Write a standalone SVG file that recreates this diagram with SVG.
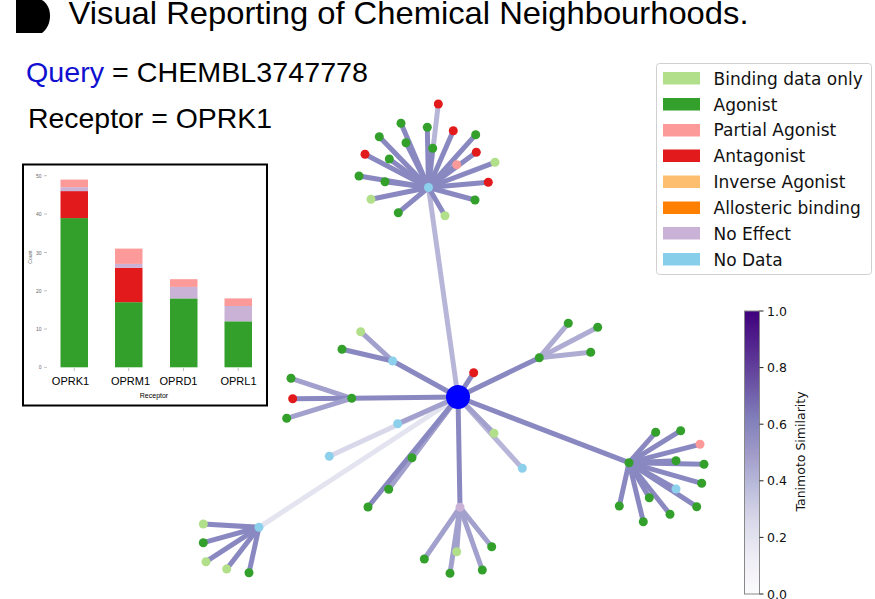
<svg xmlns="http://www.w3.org/2000/svg" width="875" height="599" viewBox="0 0 875 599">
<style>
.ttl{font-family:"Liberation Sans",Arial,sans-serif;fill:#000}
.dj{font-family:"DejaVu Sans","Liberation Sans",sans-serif;fill:#111}
.e{fill:none;stroke-width:5;stroke-linecap:butt}
.m{stroke:#8a88c1}
.l1{stroke:#a2a0cc}
.l2{stroke:#aeacd2}
.l3{stroke:#b8b6d8}
.l4{stroke:#d8d8ea}
.l5{stroke:#e4e4f0}
.bd{fill:#b2df8a}
.ag{fill:#33a02c}
.pa{fill:#fb9a99}
.an{fill:#e31a1c}
.nd{fill:#8dd0ec}
.ne{fill:#cab2d6}
.tk{font-family:"Liberation Sans",Arial,sans-serif;font-size:5px;fill:#666}
</style>
<defs>
<linearGradient id="purples" x1="0" y1="1" x2="0" y2="0">
<stop offset="0" stop-color="#fcfbfd"/>
<stop offset="0.125" stop-color="#efedf5"/>
<stop offset="0.25" stop-color="#dadaeb"/>
<stop offset="0.375" stop-color="#bcbddc"/>
<stop offset="0.5" stop-color="#9e9ac8"/>
<stop offset="0.625" stop-color="#807dba"/>
<stop offset="0.75" stop-color="#6a51a3"/>
<stop offset="0.875" stop-color="#54278f"/>
<stop offset="1" stop-color="#3f007d"/>
</linearGradient>
</defs>
<rect width="875" height="599" fill="#fff"/>

<!-- header -->
<g id="header">
<path d="M16 0 H42 C48 4 50 10 50 16 C50 23 47 29 42 33 H16 Z" fill="#000"/>
<text class="ttl" x="68.5" y="23.5" font-size="30.5" textLength="680" lengthAdjust="spacingAndGlyphs">Visual Reporting of Chemical Neighbourhoods.</text>
<text class="ttl" x="26" y="81.5" font-size="28.5" textLength="342" lengthAdjust="spacingAndGlyphs"><tspan fill="#1010d0">Query</tspan> = CHEMBL3747778</text>
<text class="ttl" x="28" y="128" font-size="28.5" textLength="244" lengthAdjust="spacingAndGlyphs">Receptor = OPRK1</text>
</g>

<!-- bar chart inset -->
<g id="barchart">
<rect x="23" y="164.5" width="244" height="241" fill="#fff" stroke="#000" stroke-width="2"/>
<g class="tk" text-anchor="end">
<text x="41.5" y="177.5">50</text>
<text x="41.5" y="216">40</text>
<text x="41.5" y="254.5">30</text>
<text x="41.5" y="293">20</text>
<text x="41.5" y="331">10</text>
<text x="41.5" y="369">0</text>
</g>
<g stroke="#999" stroke-width="0.6">
<line x1="44" y1="175.7" x2="47" y2="175.7"/>
<line x1="44" y1="214" x2="47" y2="214"/>
<line x1="44" y1="252.5" x2="47" y2="252.5"/>
<line x1="44" y1="290.8" x2="47" y2="290.8"/>
<line x1="44" y1="329" x2="47" y2="329"/>
<line x1="44" y1="367.3" x2="47" y2="367.3"/>
<line x1="74.3" y1="368" x2="74.3" y2="371"/>
<line x1="128.7" y1="368" x2="128.7" y2="371"/>
<line x1="183.5" y1="368" x2="183.5" y2="371"/>
<line x1="238.2" y1="368" x2="238.2" y2="371"/>
</g>
<text class="tk" transform="translate(32 257) rotate(-90)" text-anchor="middle">Count</text>
<!-- OPRK1 -->
<rect class="ag" x="60.5" y="218.1" width="27.5" height="149.2"/>
<rect class="an" x="60.5" y="191.1" width="27.5" height="27"/>
<rect class="ne" x="60.5" y="187.2" width="27.5" height="3.9"/>
<rect class="pa" x="60.5" y="179.6" width="27.5" height="7.6"/>
<!-- OPRM1 -->
<rect class="ag" x="115" y="302.2" width="27.5" height="65.1"/>
<rect class="an" x="115" y="267.7" width="27.5" height="34.5"/>
<rect class="ne" x="115" y="263.9" width="27.5" height="3.8"/>
<rect class="pa" x="115" y="248.6" width="27.5" height="15.3"/>
<!-- OPRD1 -->
<rect class="ag" x="170" y="298.4" width="27.5" height="68.9"/>
<rect class="ne" x="170" y="286.9" width="27.5" height="11.5"/>
<rect class="pa" x="170" y="279.2" width="27.5" height="7.7"/>
<!-- OPRL1 -->
<rect class="ag" x="224.5" y="321.3" width="27.5" height="46"/>
<rect class="ne" x="224.5" y="306" width="27.5" height="15.3"/>
<rect class="pa" x="224.5" y="298.4" width="27.5" height="7.6"/>
<g class="ttl" font-size="11" text-anchor="middle">
<text x="70.5" y="384.5">OPRK1</text>
<text x="130.5" y="384.5">OPRM1</text>
<text x="178.5" y="384.5">OPRD1</text>
<text x="238.5" y="384.5">OPRL1</text>
</g>
<text class="ttl" x="154" y="398" font-size="7" text-anchor="middle" fill="#222">Receptor</text>
</g>

<!-- legend -->
<g id="legend">
<rect x="656.5" y="63.5" width="215" height="211" rx="3" fill="#fff" stroke="#d0d0d0" stroke-width="1"/>
<rect class="bd" x="663" y="72" width="37" height="12.5"/>
<rect class="ag" x="663" y="98" width="37" height="12.5"/>
<rect class="pa" x="663" y="124" width="37" height="12.5"/>
<rect class="an" x="663" y="149.5" width="37" height="12.5"/>
<rect x="663" y="175.5" width="37" height="12.5" fill="#fdbf6f"/>
<rect x="663" y="201.5" width="37" height="12.5" fill="#ff7f00"/>
<rect class="ne" x="663" y="227" width="37" height="12.5"/>
<rect x="663" y="253" width="37" height="12.5" fill="#87ceeb"/>
<g class="dj" font-size="17">
<text x="713.5" y="84.5">Binding data only</text>
<text x="713.5" y="110.5">Agonist</text>
<text x="713.5" y="136">Partial Agonist</text>
<text x="713.5" y="162">Antagonist</text>
<text x="713.5" y="188">Inverse Agonist</text>
<text x="713.5" y="213.5">Allosteric binding</text>
<text x="713.5" y="239.5">No Effect</text>
<text x="713.5" y="265.5">No Data</text>
</g>
</g>

<!-- colorbar -->
<g id="colorbar">
<rect x="744.5" y="311" width="15" height="283" fill="url(#purples)" stroke="#888" stroke-width="1"/>
<g stroke="#222" stroke-width="1">
<line x1="759.5" y1="311" x2="763.5" y2="311"/>
<line x1="759.5" y1="367.6" x2="763.5" y2="367.6"/>
<line x1="759.5" y1="424.2" x2="763.5" y2="424.2"/>
<line x1="759.5" y1="480.8" x2="763.5" y2="480.8"/>
<line x1="759.5" y1="537.4" x2="763.5" y2="537.4"/>
<line x1="759.5" y1="594" x2="763.5" y2="594"/>
</g>
<g class="dj" font-size="12.5">
<text x="767" y="315.5">1.0</text>
<text x="767" y="372">0.8</text>
<text x="767" y="428.7">0.6</text>
<text x="767" y="485.3">0.4</text>
<text x="767" y="541.9">0.2</text>
<text x="767" y="598.5">0.0</text>
</g>
<text class="dj" font-size="12.5" transform="translate(805 451.5) rotate(-90)" text-anchor="middle">Tanimoto Similarity</text>
</g>

<!-- connectors -->
<g id="edges">
<line class="e l5" x1="458" y1="397" x2="259" y2="527.3"/>
<line class="e l4" x1="458" y1="397" x2="329.3" y2="456.3"/>
<line class="e l3" x1="458" y1="397" x2="522.3" y2="468.3"/>
<line class="e l3" x1="458" y1="397" x2="428.5" y2="187.5"/>
<line class="e l3" x1="428.5" y1="187.5" x2="438.3" y2="104"/>
<line class="e m" x1="428.5" y1="187.5" x2="401" y2="123.3"/>
<line class="e m" x1="428.5" y1="187.5" x2="427.3" y2="127.3"/>
<line class="e m" x1="428.5" y1="187.5" x2="453.3" y2="130.7"/>
<line class="e m" x1="428.5" y1="187.5" x2="475.7" y2="134.7"/>
<line class="e m" x1="428.5" y1="187.5" x2="379.3" y2="136.7"/>
<line class="e m" x1="428.5" y1="187.5" x2="406" y2="142.7"/>
<line class="e m" x1="428.5" y1="187.5" x2="476.3" y2="152.3"/>
<line class="e m" x1="428.5" y1="187.5" x2="432.7" y2="148.3"/>
<line class="e m" x1="428.5" y1="187.5" x2="456.7" y2="164.7"/>
<line class="e m" x1="428.5" y1="187.5" x2="495" y2="162.3"/>
<line class="e m" x1="428.5" y1="187.5" x2="365" y2="154.3"/>
<line class="e m" x1="428.5" y1="187.5" x2="389.3" y2="159"/>
<line class="e m" x1="428.5" y1="187.5" x2="359" y2="176"/>
<line class="e m" x1="428.5" y1="187.5" x2="385" y2="181.7"/>
<line class="e m" x1="428.5" y1="187.5" x2="488.3" y2="182.3"/>
<line class="e m" x1="428.5" y1="187.5" x2="371" y2="199.3"/>
<line class="e m" x1="428.5" y1="187.5" x2="475" y2="200"/>
<line class="e m" x1="428.5" y1="187.5" x2="398.3" y2="212.7"/>
<line class="e m" x1="428.5" y1="187.5" x2="445" y2="215.7"/>
<line class="e m" x1="458" y1="397" x2="392.7" y2="361"/>
<line class="e l1" x1="392.7" y1="361" x2="360.7" y2="331.7"/>
<line class="e m" x1="392.7" y1="361" x2="342" y2="349.3"/>
<line class="e m" x1="458" y1="397" x2="351.7" y2="398.3"/>
<line class="e l1" x1="351.7" y1="398.3" x2="291" y2="378.3"/>
<line class="e m" x1="351.7" y1="398.3" x2="292.7" y2="398.7"/>
<line class="e l1" x1="351.7" y1="398.3" x2="286.7" y2="418.3"/>
<line class="e m" x1="458" y1="397" x2="473.7" y2="372.7"/>
<line class="e l1" x1="458" y1="397" x2="397.7" y2="423.7"/>
<line class="e m" x1="458" y1="397" x2="412" y2="457.7"/>
<line class="e l1" x1="458" y1="397" x2="388.7" y2="489.3"/>
<line class="e m" x1="458" y1="397" x2="368" y2="507"/>
<line class="e l1" x1="458" y1="397" x2="494" y2="433.3"/>
<line class="e m" x1="458" y1="397" x2="539.3" y2="357.7"/>
<line class="e l2" x1="539.3" y1="357.7" x2="568.3" y2="323.3"/>
<line class="e l2" x1="539.3" y1="357.7" x2="597.7" y2="327.3"/>
<line class="e l2" x1="539.3" y1="357.7" x2="590.7" y2="352.3"/>
<line class="e m" x1="458" y1="397" x2="629" y2="462.7"/>
<line class="e m" x1="629" y1="462.7" x2="655.7" y2="432.3"/>
<line class="e m" x1="629" y1="462.7" x2="680.7" y2="430.7"/>
<line class="e m" x1="629" y1="462.7" x2="700" y2="444.3"/>
<line class="e m" x1="629" y1="462.7" x2="676" y2="460.7"/>
<line class="e m" x1="629" y1="462.7" x2="704" y2="464.3"/>
<line class="e m" x1="629" y1="462.7" x2="701.7" y2="483.3"/>
<line class="e m" x1="629" y1="462.7" x2="676" y2="489"/>
<line class="e m" x1="629" y1="462.7" x2="696.7" y2="506.7"/>
<line class="e m" x1="629" y1="462.7" x2="649.3" y2="497.7"/>
<line class="e m" x1="629" y1="462.7" x2="670" y2="514.3"/>
<line class="e m" x1="629" y1="462.7" x2="619.3" y2="506"/>
<line class="e m" x1="629" y1="462.7" x2="643.3" y2="521.7"/>
<line class="e m" x1="458" y1="397" x2="460" y2="507.3"/>
<line class="e l1" x1="460" y1="507.3" x2="424.3" y2="559"/>
<line class="e l1" x1="460" y1="507.3" x2="456.7" y2="551.7"/>
<line class="e l1" x1="460" y1="507.3" x2="450" y2="573.3"/>
<line class="e l1" x1="460" y1="507.3" x2="482.3" y2="570"/>
<line class="e l1" x1="460" y1="507.3" x2="491.7" y2="546.7"/>
<line class="e m" x1="259" y1="527.3" x2="203.3" y2="524"/>
<line class="e m" x1="259" y1="527.3" x2="203.3" y2="542.7"/>
<line class="e m" x1="259" y1="527.3" x2="206" y2="561.7"/>
<line class="e m" x1="259" y1="527.3" x2="226.7" y2="569"/>
<line class="e m" x1="259" y1="527.3" x2="249" y2="572.7"/>
</g>

<!-- nodes -->
<g id="nodes">
<g id="n-query"><circle cx="458" cy="397" r="12" fill="#0000ff"/></g>
<g id="n-t0"><circle class="nd" cx="428.5" cy="187.5" r="4.5"/></g>
<g id="n-t1"><circle class="an" cx="438.3" cy="104" r="4.5"/></g>
<g id="n-t2"><circle class="ag" cx="401" cy="123.3" r="4.5"/></g>
<g id="n-t3"><circle class="ag" cx="427.3" cy="127.3" r="4.5"/></g>
<g id="n-t4"><circle class="an" cx="453.3" cy="130.7" r="4.5"/></g>
<g id="n-t5"><circle class="ag" cx="475.7" cy="134.7" r="4.5"/></g>
<g id="n-t6"><circle class="ag" cx="379.3" cy="136.7" r="4.5"/></g>
<g id="n-t7"><circle class="ag" cx="406" cy="142.7" r="4.5"/></g>
<g id="n-t8"><circle class="an" cx="476.3" cy="152.3" r="4.5"/></g>
<g id="n-t9"><circle class="ag" cx="432.7" cy="148.3" r="4.5"/></g>
<g id="n-t10"><circle class="pa" cx="456.7" cy="164.7" r="4.5"/></g>
<g id="n-t11"><circle class="bd" cx="495" cy="162.3" r="4.5"/></g>
<g id="n-t12"><circle class="an" cx="365" cy="154.3" r="4.5"/></g>
<g id="n-t13"><circle class="ag" cx="389.3" cy="159" r="4.5"/></g>
<g id="n-t14"><circle class="ag" cx="359" cy="176" r="4.5"/></g>
<g id="n-t15"><circle class="ag" cx="385" cy="181.7" r="4.5"/></g>
<g id="n-t16"><circle class="an" cx="488.3" cy="182.3" r="4.5"/></g>
<g id="n-t17"><circle class="bd" cx="371" cy="199.3" r="4.5"/></g>
<g id="n-t18"><circle class="ag" cx="475" cy="200" r="4.5"/></g>
<g id="n-t19"><circle class="ag" cx="398.3" cy="212.7" r="4.5"/></g>
<g id="n-t20"><circle class="bd" cx="445" cy="215.7" r="4.5"/></g>
<g id="n-u0"><circle class="nd" cx="392.7" cy="361" r="4.5"/></g>
<g id="n-u1"><circle class="bd" cx="360.7" cy="331.7" r="4.5"/></g>
<g id="n-u2"><circle class="ag" cx="342" cy="349.3" r="4.5"/></g>
<g id="n-l0"><circle class="ag" cx="351.7" cy="398.3" r="4.5"/></g>
<g id="n-l1"><circle class="ag" cx="291" cy="378.3" r="4.5"/></g>
<g id="n-l2"><circle class="an" cx="292.7" cy="398.7" r="4.5"/></g>
<g id="n-l3"><circle class="ag" cx="286.7" cy="418.3" r="4.5"/></g>
<g id="n-c1"><circle class="an" cx="473.7" cy="372.7" r="4.5"/></g>
<g id="n-c2"><circle class="nd" cx="397.7" cy="423.7" r="4.5"/></g>
<g id="n-c3"><circle class="nd" cx="329.3" cy="456.3" r="4.5"/></g>
<g id="n-c4"><circle class="ag" cx="412" cy="457.7" r="4.5"/></g>
<g id="n-c5"><circle class="ag" cx="388.7" cy="489.3" r="4.5"/></g>
<g id="n-c6"><circle class="ag" cx="368" cy="507" r="4.5"/></g>
<g id="n-c7"><circle class="bd" cx="494" cy="433.3" r="4.5"/></g>
<g id="n-c8"><circle class="nd" cx="522.3" cy="468.3" r="4.5"/></g>
<g id="n-r0"><circle class="ag" cx="539.3" cy="357.7" r="4.5"/></g>
<g id="n-r1"><circle class="ag" cx="568.3" cy="323.3" r="4.5"/></g>
<g id="n-r2"><circle class="ag" cx="597.7" cy="327.3" r="4.5"/></g>
<g id="n-r3"><circle class="ag" cx="590.7" cy="352.3" r="4.5"/></g>
<g id="n-s0"><circle class="ag" cx="629" cy="462.7" r="4.5"/></g>
<g id="n-s1"><circle class="ag" cx="655.7" cy="432.3" r="4.5"/></g>
<g id="n-s2"><circle class="ag" cx="680.7" cy="430.7" r="4.5"/></g>
<g id="n-s3"><circle class="pa" cx="700" cy="444.3" r="4.5"/></g>
<g id="n-s4"><circle class="ag" cx="676" cy="460.7" r="4.5"/></g>
<g id="n-s5"><circle class="ag" cx="704" cy="464.3" r="4.5"/></g>
<g id="n-s6"><circle class="ag" cx="701.7" cy="483.3" r="4.5"/></g>
<g id="n-s7"><circle class="nd" cx="676" cy="489" r="4.5"/></g>
<g id="n-s8"><circle class="ag" cx="696.7" cy="506.7" r="4.5"/></g>
<g id="n-s9"><circle class="ag" cx="649.3" cy="497.7" r="4.5"/></g>
<g id="n-s10"><circle class="ag" cx="670" cy="514.3" r="4.5"/></g>
<g id="n-s11"><circle class="ag" cx="619.3" cy="506" r="4.5"/></g>
<g id="n-s12"><circle class="ag" cx="643.3" cy="521.7" r="4.5"/></g>
<g id="n-b0"><circle class="ne" cx="460" cy="507.3" r="4.5"/></g>
<g id="n-b1"><circle class="ag" cx="424.3" cy="559" r="4.5"/></g>
<g id="n-b2"><circle class="bd" cx="456.7" cy="551.7" r="4.5"/></g>
<g id="n-b3"><circle class="ag" cx="450" cy="573.3" r="4.5"/></g>
<g id="n-b4"><circle class="ag" cx="482.3" cy="570" r="4.5"/></g>
<g id="n-b5"><circle class="ag" cx="491.7" cy="546.7" r="4.5"/></g>
<g id="n-w0"><circle class="nd" cx="259" cy="527.3" r="4.5"/></g>
<g id="n-w1"><circle class="bd" cx="203.3" cy="524" r="4.5"/></g>
<g id="n-w2"><circle class="ag" cx="203.3" cy="542.7" r="4.5"/></g>
<g id="n-w3"><circle class="bd" cx="206" cy="561.7" r="4.5"/></g>
<g id="n-w4"><circle class="bd" cx="226.7" cy="569" r="4.5"/></g>
<g id="n-w5"><circle class="ag" cx="249" cy="572.7" r="4.5"/></g>
</g>
</svg>
